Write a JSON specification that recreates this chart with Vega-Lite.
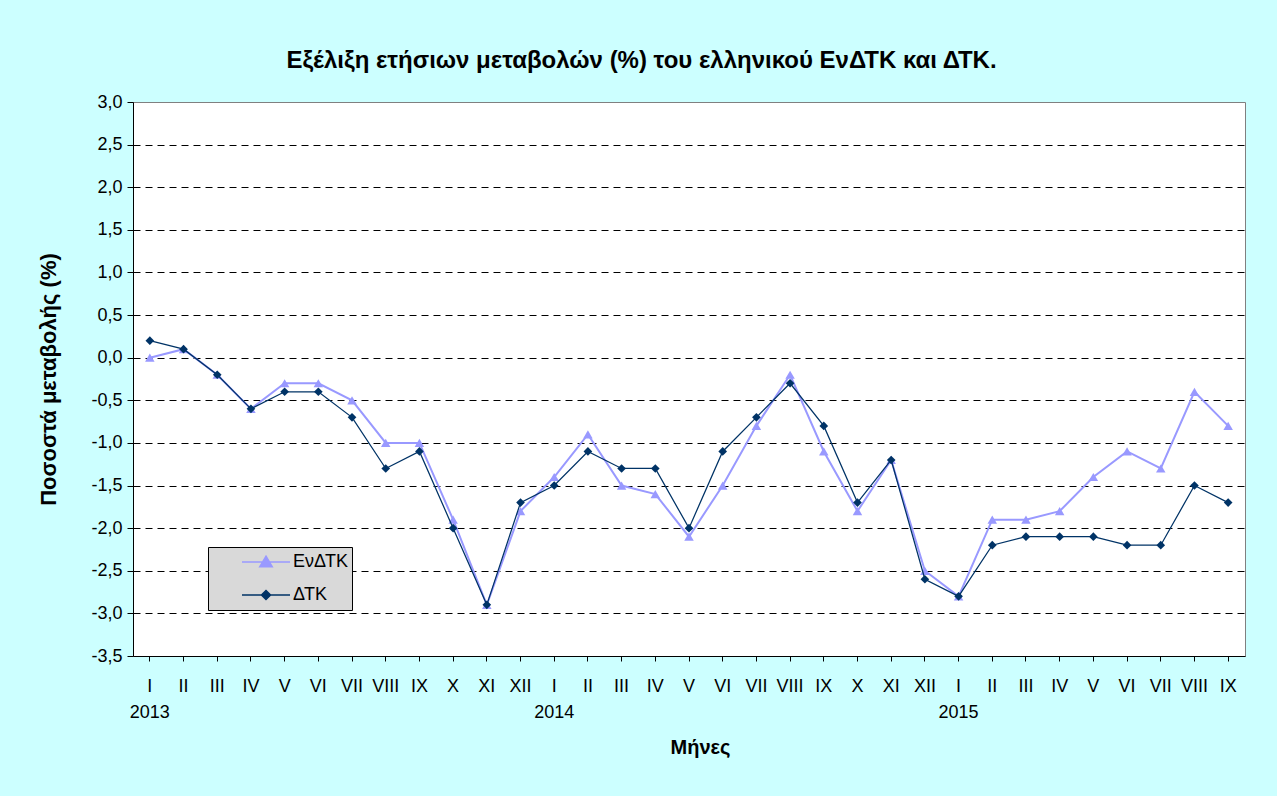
{
  "$schema": "https://vega.github.io/schema/vega-lite/v6.json",
  "width": 1112,
  "height": 554,
  "autosize": {"type": "none"},
  "padding": {"left": 133, "top": 102, "right": 32, "bottom": 140},
  "background": "#CCFFFF",
  "config": {
    "font": "Liberation Sans",
    "view": {"stroke": "#808080", "strokeWidth": 1, "fill": "#FFFFFF"},
    "axis": {"labelFont": "Liberation Sans", "titleFont": "Liberation Sans"}
  },
  "title": {
    "text": "Εξέλιξη ετήσιων μεταβολών (%) του ελληνικού ΕνΔΤΚ και ΔΤΚ.",
    "fontSize": 24,
    "fontWeight": "bold",
    "font": "Liberation Sans",
    "color": "#000000",
    "anchor": "middle",
    "frame": "bounds",
    "offset": 20
  },
  "data": {
    "values": [
      {"key": "2013-01|I", "series": "ΕνΔΤΚ", "value": 0.0},
      {"key": "2013-02|II", "series": "ΕνΔΤΚ", "value": 0.1},
      {"key": "2013-03|III", "series": "ΕνΔΤΚ", "value": -0.2},
      {"key": "2013-04|IV", "series": "ΕνΔΤΚ", "value": -0.6},
      {"key": "2013-05|V", "series": "ΕνΔΤΚ", "value": -0.3},
      {"key": "2013-06|VI", "series": "ΕνΔΤΚ", "value": -0.3},
      {"key": "2013-07|VII", "series": "ΕνΔΤΚ", "value": -0.5},
      {"key": "2013-08|VIII", "series": "ΕνΔΤΚ", "value": -1.0},
      {"key": "2013-09|IX", "series": "ΕνΔΤΚ", "value": -1.0},
      {"key": "2013-10|X", "series": "ΕνΔΤΚ", "value": -1.9},
      {"key": "2013-11|XI", "series": "ΕνΔΤΚ", "value": -2.9},
      {"key": "2013-12|XII", "series": "ΕνΔΤΚ", "value": -1.8},
      {"key": "2014-01|I", "series": "ΕνΔΤΚ", "value": -1.4},
      {"key": "2014-02|II", "series": "ΕνΔΤΚ", "value": -0.9},
      {"key": "2014-03|III", "series": "ΕνΔΤΚ", "value": -1.5},
      {"key": "2014-04|IV", "series": "ΕνΔΤΚ", "value": -1.6},
      {"key": "2014-05|V", "series": "ΕνΔΤΚ", "value": -2.1},
      {"key": "2014-06|VI", "series": "ΕνΔΤΚ", "value": -1.5},
      {"key": "2014-07|VII", "series": "ΕνΔΤΚ", "value": -0.8},
      {"key": "2014-08|VIII", "series": "ΕνΔΤΚ", "value": -0.2},
      {"key": "2014-09|IX", "series": "ΕνΔΤΚ", "value": -1.1},
      {"key": "2014-10|X", "series": "ΕνΔΤΚ", "value": -1.8},
      {"key": "2014-11|XI", "series": "ΕνΔΤΚ", "value": -1.2},
      {"key": "2014-12|XII", "series": "ΕνΔΤΚ", "value": -2.5},
      {"key": "2015-01|I", "series": "ΕνΔΤΚ", "value": -2.8},
      {"key": "2015-02|II", "series": "ΕνΔΤΚ", "value": -1.9},
      {"key": "2015-03|III", "series": "ΕνΔΤΚ", "value": -1.9},
      {"key": "2015-04|IV", "series": "ΕνΔΤΚ", "value": -1.8},
      {"key": "2015-05|V", "series": "ΕνΔΤΚ", "value": -1.4},
      {"key": "2015-06|VI", "series": "ΕνΔΤΚ", "value": -1.1},
      {"key": "2015-07|VII", "series": "ΕνΔΤΚ", "value": -1.3},
      {"key": "2015-08|VIII", "series": "ΕνΔΤΚ", "value": -0.4},
      {"key": "2015-09|IX", "series": "ΕνΔΤΚ", "value": -0.8},
      {"key": "2013-01|I", "series": "ΔΤΚ", "value": 0.2},
      {"key": "2013-02|II", "series": "ΔΤΚ", "value": 0.1},
      {"key": "2013-03|III", "series": "ΔΤΚ", "value": -0.2},
      {"key": "2013-04|IV", "series": "ΔΤΚ", "value": -0.6},
      {"key": "2013-05|V", "series": "ΔΤΚ", "value": -0.4},
      {"key": "2013-06|VI", "series": "ΔΤΚ", "value": -0.4},
      {"key": "2013-07|VII", "series": "ΔΤΚ", "value": -0.7},
      {"key": "2013-08|VIII", "series": "ΔΤΚ", "value": -1.3},
      {"key": "2013-09|IX", "series": "ΔΤΚ", "value": -1.1},
      {"key": "2013-10|X", "series": "ΔΤΚ", "value": -2.0},
      {"key": "2013-11|XI", "series": "ΔΤΚ", "value": -2.9},
      {"key": "2013-12|XII", "series": "ΔΤΚ", "value": -1.7},
      {"key": "2014-01|I", "series": "ΔΤΚ", "value": -1.5},
      {"key": "2014-02|II", "series": "ΔΤΚ", "value": -1.1},
      {"key": "2014-03|III", "series": "ΔΤΚ", "value": -1.3},
      {"key": "2014-04|IV", "series": "ΔΤΚ", "value": -1.3},
      {"key": "2014-05|V", "series": "ΔΤΚ", "value": -2.0},
      {"key": "2014-06|VI", "series": "ΔΤΚ", "value": -1.1},
      {"key": "2014-07|VII", "series": "ΔΤΚ", "value": -0.7},
      {"key": "2014-08|VIII", "series": "ΔΤΚ", "value": -0.3},
      {"key": "2014-09|IX", "series": "ΔΤΚ", "value": -0.8},
      {"key": "2014-10|X", "series": "ΔΤΚ", "value": -1.7},
      {"key": "2014-11|XI", "series": "ΔΤΚ", "value": -1.2},
      {"key": "2014-12|XII", "series": "ΔΤΚ", "value": -2.6},
      {"key": "2015-01|I", "series": "ΔΤΚ", "value": -2.8},
      {"key": "2015-02|II", "series": "ΔΤΚ", "value": -2.2},
      {"key": "2015-03|III", "series": "ΔΤΚ", "value": -2.1},
      {"key": "2015-04|IV", "series": "ΔΤΚ", "value": -2.1},
      {"key": "2015-05|V", "series": "ΔΤΚ", "value": -2.1},
      {"key": "2015-06|VI", "series": "ΔΤΚ", "value": -2.2},
      {"key": "2015-07|VII", "series": "ΔΤΚ", "value": -2.2},
      {"key": "2015-08|VIII", "series": "ΔΤΚ", "value": -1.5},
      {"key": "2015-09|IX", "series": "ΔΤΚ", "value": -1.7}
    ]
  },
  "encoding": {
    "y": {
      "field": "value",
      "type": "quantitative",
      "scale": {"domain": [-3.5, 3.0], "nice": false, "zero": false},
      "axis": {
        "values": [-3.5, -3, -2.5, -2, -1.5, -1, -0.5, 0, 0.5, 1, 1.5, 2, 2.5, 3],
        "labelExpr": "(datum.value < 0 ? '-' : '') + replace(format(abs(datum.value), '.1f'), '.', ',')",
        "labelFontSize": 18,
        "labelColor": "#000000",
        "labelPadding": 5,
        "tickSize": 6,
        "tickColor": "#000000",
        "domainColor": "#000000",
        "grid": true,
        "gridColor": "#000000",
        "gridDash": [7, 5],
        "gridWidth": 1,
        "gridOpacity": {"condition": {"test": "datum.value == 3 || datum.value == -3.5", "value": 0}, "value": 1},
        "title": "Ποσοστά μεταβολής (%)",
        "titleFontSize": 22,
        "titleFontWeight": "bold",
        "titleColor": "#000000",
        "titlePadding": 30
      }
    }
  },
  "layer": [
    {
      "encoding": {
        "x": {
          "field": "key",
          "type": "ordinal",
          "sort": "ascending",
          "scale": {"type": "band", "paddingInner": 0, "paddingOuter": 0},
          "axis": {
            "orient": "bottom",
            "title": null,
            "labelExpr": "slice(datum.value, 8)",
            "labelAngle": 0,
            "labelFontSize": 18,
            "labelColor": "#000000",
            "labelPadding": 16,
            "labelOverlap": false,
            "tickSize": 5,
            "tickColor": "#000000",
            "domainColor": "#000000"
          }
        }
      },
      "layer": [
        {
          "transform": [{"filter": "datum.series == 'ΕνΔΤΚ'"}],
          "mark": {"type": "line", "color": "#9999FF", "strokeWidth": 2}
        },
        {
          "transform": [{"filter": "datum.series == 'ΕνΔΤΚ'"}],
          "mark": {"type": "point", "shape": "triangle-up", "filled": true, "color": "#9999FF", "size": 90, "opacity": 1}
        },
        {
          "transform": [{"filter": "datum.series == 'ΔΤΚ'"}],
          "mark": {"type": "line", "color": "#003366", "strokeWidth": 1.25}
        },
        {
          "transform": [{"filter": "datum.series == 'ΔΤΚ'"}],
          "mark": {"type": "point", "shape": "diamond", "filled": true, "color": "#003366", "size": 75, "opacity": 1}
        }
      ]
    },
    {
      "mark": {"type": "point", "filled": true, "opacity": 0},
      "encoding": {
        "x": {
          "field": "key",
          "type": "ordinal",
          "sort": "ascending",
          "scale": {"type": "band", "paddingInner": 0, "paddingOuter": 0},
          "axis": {
            "orient": "bottom",
            "title": "Μήνες",
            "labelExpr": "slice(datum.value, 5, 7) == '01' ? slice(datum.value, 0, 4) : ''",
            "labelAngle": 0,
            "labelFontSize": 18,
            "labelColor": "#000000",
            "labelPadding": 47,
            "labelOverlap": false,
            "ticks": false,
            "tickSize": 0,
            "domain": false,
            "titleFontSize": 20,
            "titleFontWeight": "bold",
            "titleColor": "#000000",
            "titlePadding": 16,
            "titleX": 567
          }
        },
        "color": {
          "field": "series",
          "type": "nominal",
          "scale": {"domain": ["ΕνΔΤΚ", "ΔΤΚ"], "range": ["#9999FF", "#003366"]},
          "legend": {
            "title": null,
            "orient": "none",
            "legendX": 75,
            "legendY": 445,
            "fillColor": "#d9d9d9",
            "strokeColor": "#000000",
            "padding": 4,
            "symbolSize": 2304,
            "clipHeight": 22,
            "rowPadding": 11,
            "symbolOffset": 29,
            "labelOffset": 2,
            "labelFontSize": 18,
            "labelFont": "Liberation Sans",
            "labelColor": "#000000",
            "symbolStrokeWidth": 1.5,
            "symbolOpacity": 1,
            "labelExpr": "datum.label + '     '",
            "encode": {"symbols": {"update": {"stroke": {"scale": "color", "field": "value"}}}}
          }
        },
        "shape": {
          "field": "series",
          "type": "nominal",
          "scale": {
            "domain": ["ΕνΔΤΚ", "ΔΤΚ"],
            "range": ["M-1,0L1,0M0,-0.24L0.26,0.2L-0.26,0.2Z", "M-1,0L1,0M-0.19,0L0,-0.19L0.19,0L0,0.19Z"]
          }
        }
      }
    }
  ],
  "resolve": {"axis": {"x": "independent"}}
}
